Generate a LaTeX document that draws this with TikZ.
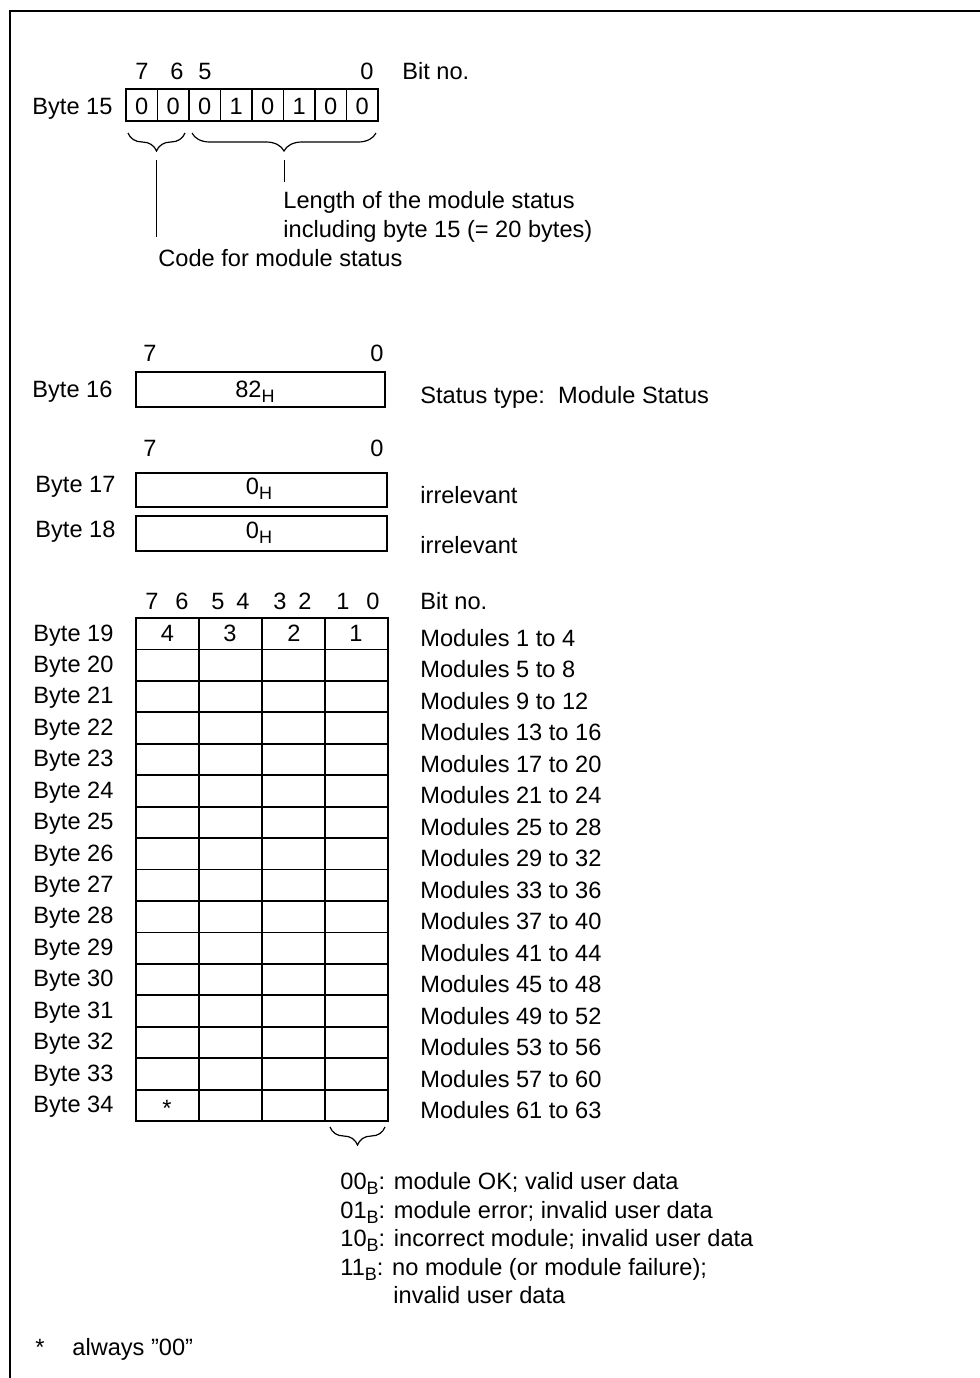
\documentclass[tikz,border=0pt]{standalone}
\usepackage{fontspec}
\setmainfont{Liberation Sans}
\usetikzlibrary{decorations.pathreplacing, positioning}

% tiefgestellter Index (H, B)
\newcommand{\lowidx}[1]{\raisebox{-2.6pt}{\fontsize{9}{10}\selectfont #1}}

\tikzset{
  txt/.style={anchor=base west, inner sep=0pt, font=\fontsize{11.8}{14}\selectfont},
  num/.style={anchor=base, inner sep=0pt, font=\fontsize{11.8}{14}\selectfont},
  cell/.style={draw, line width=0.9pt},
  brc/.style={decorate, decoration={brace, mirror, amplitude=9pt}, line width=0.6pt},
  lead/.style={line width=0.5pt}
}

\begin{document}
\begin{tikzpicture}[x=0.5pt, y=-0.5pt]
  \useasboundingbox (0,0) rectangle (980,1378);

  % Rahmen oben und links
  \draw[line width=1pt] (980,11) -- (10,11) -- (10,1378);

  % Byte 15
  \node[num] (t7) at (142,79) {7};
  \node[num] (t6) at (177,79) {6};
  \node[num] (t5) at (205,79) {5};
  \node[num] (t0) at (367,79) {0};
  \node[txt] (bitno1) at (402,79) {Bit no.};
  \node[txt] (b15) at (32,114) {Byte 15};
  \foreach \v [count=\i from 0] in {0,0,0,1,0,1,0,0} {
    \draw[cell] (126+31.5*\i,89) rectangle ++(31.5,32);
    \node[num] (c\i) at (141.75+31.5*\i,114) {\v};
  }

  % Klammern unter Byte 15
  \draw[brc] (128,133) -- (185,133);
  \draw[brc] (192,133) -- (376,133);
  \coordinate (codetip) at (156,160);
  \coordinate (lentip) at (284,160);
  \node[txt] (len1) at (283,208) {Length of the module status};
  \node[txt] (len2) at (283,237) {including byte 15 (= 20 bytes)};
  \node[txt] (code) at (158,266) {Code for module status};
  \draw[lead] (lentip) -- ([yshift=4.5pt]lentip |- len1.north);
  \draw[lead] (codetip) -- ([yshift=6pt]codetip |- code.north);

  % Byte 16
  \node[num] (u7) at (150,361) {7};
  \node[num] (u0) at (377,361) {0};
  \node[txt] (b16) at (32,397) {Byte 16};
  \draw[cell] (136,372) rectangle (385,407);
  \node[num] (v16) at (255,397) {82\lowidx{H}};
  \node[txt] (s16) at (420,403) {Status type:\ \ Module Status};

  % Byte 17 und 18
  \node[num] (w7) at (150,456) {7};
  \node[num] (w0) at (377,456) {0};
  \node[txt] (b17) at (35,492) {Byte 17};
  \draw[cell] (136,473) rectangle (387,507);
  \node[num] (v17) at (259,494) {0\lowidx{H}};
  \node[txt] (s17) at (420,503) {irrelevant};
  \node[txt] (b18) at (35,537) {Byte 18};
  \draw[cell] (136,516) rectangle (387,551);
  \node[num] (v18) at (259,538) {0\lowidx{H}};
  \node[txt] (s18) at (420,553) {irrelevant};

  % Byte 19 bis 34
  \foreach \x/\d in {152/7,182/6,218/5,243/4,280/3,305/2,343/1,373/0}
    \node[num] (bit\d) at (\x,609) {\d};
  \node[txt] (bitno2) at (420,609) {Bit no.};
  \foreach \n [count=\r from 0] in {19,...,34} {
    \node[txt] (byte\n) at (33,641+31.44*\r) {Byte \n};
    \foreach \c in {0,...,3}
      \draw[cell] (136+62.9*\c,618+31.44*\r) rectangle ++(62.9,31.44);
  }
  \foreach \x/\m in {167.5/4,230/3,294/2,356/1}
    \node[num] (mod\m) at (\x,641) {\m};
  \node[num] (star34) at (167,1116) {*};
  \foreach \a/\b [count=\r from 0] in {1/4,5/8,9/12,13/16,17/20,21/24,25/28,29/32,33/36,37/40,41/44,45/48,49/52,53/56,57/60,61/63}
    \node[txt] (mods\a) at (420,646.5+31.47*\r) {Modules \a\ to \b};

  % Klammer und Legende
  \draw[brc] (330,1127) -- (385,1127);
  \node[txt] (st00) at (340,1189) {00\lowidx{B}: module OK; valid user data};
  \node[txt] (st01) at (340,1218) {01\lowidx{B}: module error; invalid user data};
  \node[txt] (st10) at (340,1246) {10\lowidx{B}: incorrect module; invalid user data};
  \node[txt] (st11) at (340,1275) {11\lowidx{B}: no module (or module failure);};
  \node[txt] (st11b) at (393,1303) {invalid user data};

  % Fussnote
  \node[txt] (fstar) at (35,1355) {*};
  \node[txt] (fnote) at (72,1355) {always ”00”};
\end{tikzpicture}
\end{document}
